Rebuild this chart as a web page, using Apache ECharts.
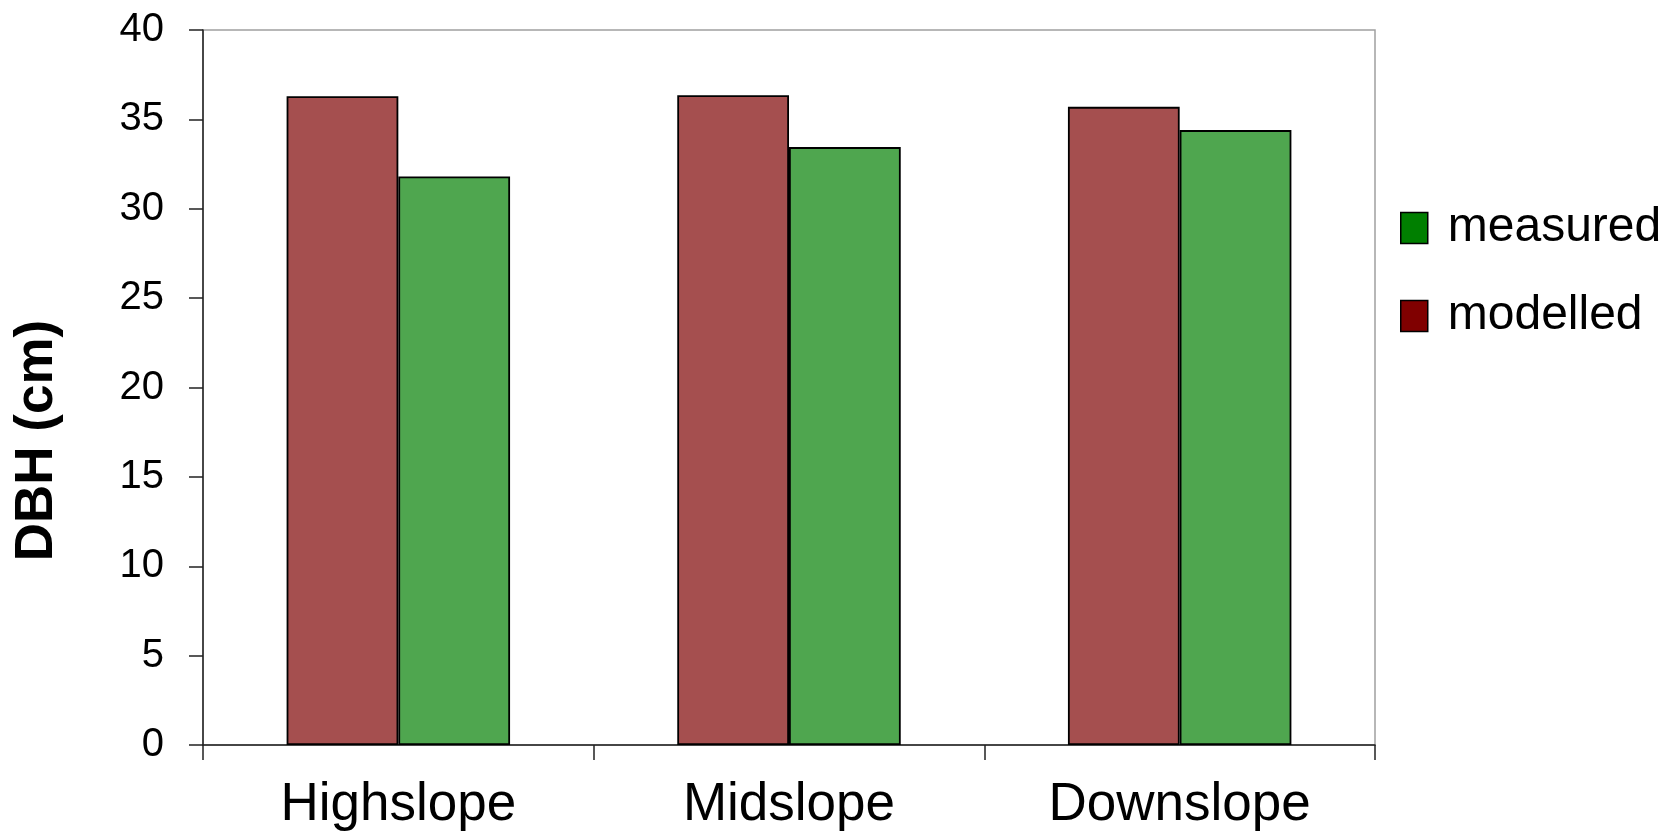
<!DOCTYPE html>
<html>
<head>
<meta charset="utf-8">
<script src="https://cdn.jsdelivr.net/npm/echarts@6/dist/echarts.min.js"></script>
<style>
  html, body { margin: 0; padding: 0; background: #ffffff; }
  #chart { width: 1663px; height: 834px; }
</style>
</head>
<body>
<div id="chart"></div>
<script>
// Slope positions along the hillside
const categories = ['Highslope', 'Midslope', 'Downslope'];
// Mean diameter at breast height (cm)
const modelled = [36.3, 36.35, 35.7];
const measured = [31.8, 33.45, 34.4];
// Value axis ticks
const yMin = 0;
const yMax = 40;
const yStep = 5;

const FONT = '"Liberation Sans", Arial, sans-serif';

const chart = echarts.init(document.getElementById('chart'), null, { renderer: 'canvas' });

chart.setOption({
  animation: false,
  backgroundColor: '#ffffff',
  grid: {
    left: 203,
    right: 288,
    top: 30,
    bottom: 89,
    show: true,
    borderColor: '#a0a0a0',
    borderWidth: 1.5,
    backgroundColor: 'transparent'
  },
  legend: {
    orient: 'vertical',
    left: 1395,
    top: 199,
    itemWidth: 27,
    itemHeight: 31,
    itemGap: 40,
    icon: 'rect',
    textStyle: { fontFamily: FONT, fontSize: 48, color: '#000000', padding: [0, 0, 0, 15] },
    data: [
      { name: 'measured', itemStyle: { color: '#007f00', borderColor: '#000000', borderWidth: 1.5 } },
      { name: 'modelled', itemStyle: { color: '#800000', borderColor: '#000000', borderWidth: 1.5 } }
    ]
  },
  xAxis: {
    type: 'category',
    data: categories,
    boundaryGap: true,
    axisLine: { show: true, lineStyle: { color: '#222222', width: 1.5 } },
    axisTick: { show: true, length: 15, lineStyle: { color: '#222222', width: 1.5 } },
    axisLabel: { fontFamily: FONT, fontSize: 53, color: '#000000', margin: 34 },
    splitLine: { show: false }
  },
  yAxis: {
    type: 'value',
    min: yMin,
    max: yMax,
    interval: yStep,
    name: 'DBH (cm)',
    nameLocation: 'middle',
    nameGap: 139,
    nameTextStyle: {
      fontFamily: FONT, fontSize: 53, fontWeight: 'bold', color: '#000000',
      padding: [0, 106, 0, 0]
    },
    axisLine: { show: true, lineStyle: { color: '#222222', width: 1.5 } },
    axisTick: { show: true, length: 14, lineStyle: { color: '#222222', width: 1.5 } },
    axisLabel: { fontFamily: FONT, fontSize: 40, color: '#000000', margin: 39 },
    splitLine: { show: false }
  },
  series: [
    {
      name: 'modelled',
      type: 'bar',
      data: modelled,
      barGap: '0%',
      barCategoryGap: '42.8%',
      itemStyle: { color: '#a54f4f', borderColor: '#000000', borderWidth: 1.8 }
    },
    {
      name: 'measured',
      type: 'bar',
      data: measured,
      itemStyle: { color: '#4fa64f', borderColor: '#000000', borderWidth: 1.8 }
    }
  ]
});
</script>
</body>
</html>
